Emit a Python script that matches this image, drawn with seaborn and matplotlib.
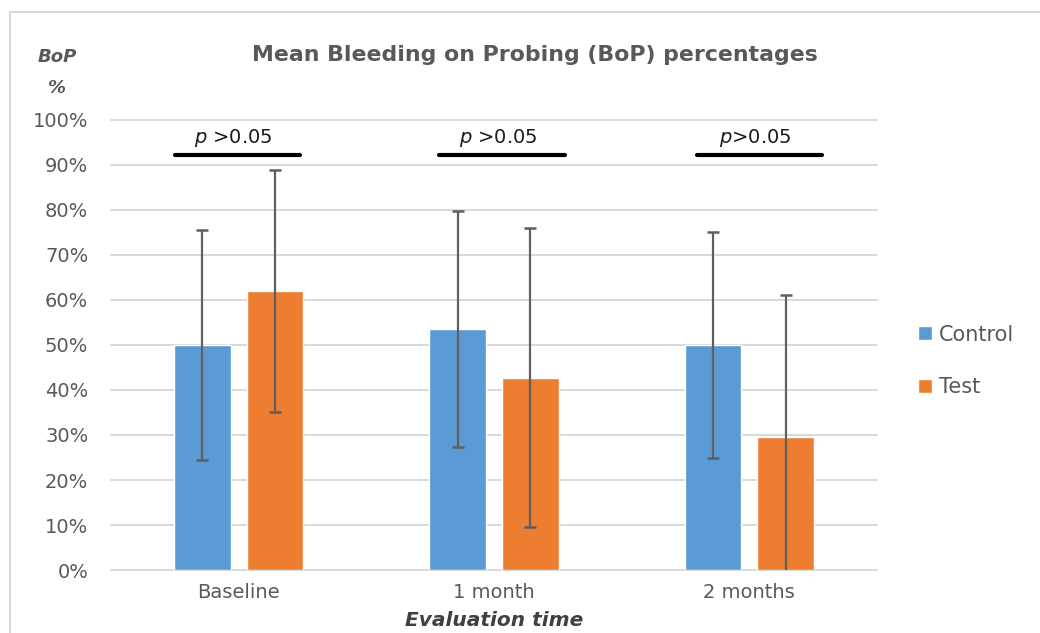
import matplotlib
matplotlib.use("Agg")
import matplotlib.pyplot as plt
from matplotlib.patches import Rectangle
from matplotlib.ticker import PercentFormatter
import seaborn as sns
import pandas as pd

# data (percent)
times = ["Baseline", "1 month", "2 months"]
groups = ["Control", "Test"]
control_mean = [50.0, 53.5, 50.0]
control_sd = [25.5, 26.2, 25.2]
test_mean = [62.0, 42.7, 29.5]
test_sd = [26.8, 33.2, 31.5]
p_labels = ["$p$ >0.05", "$p$ >0.05", "$p$>0.05"]

# p bracket offsets relative to category centre (layout only)
p_offsets = [(-0.25, 0.24), (-0.215, 0.278), (-0.205, 0.285)]

grey = "#595959"
palette = {"Control": "#5B9BD5", "Test": "#ED7D31"}

df = pd.DataFrame({
    "time": times * 2,
    "group": ["Control"] * 3 + ["Test"] * 3,
    "bop": control_mean + test_mean,
    "sd": control_sd + test_sd,
})

sns.set_style("white")
plt.rcParams["font.family"] = ["DejaVu Sans"]

fig = plt.figure(figsize=(10.4, 6.33), dpi=100)
ax = fig.add_axes([0.107, 0.0995, 0.736, 0.711])

sns.barplot(data=df, x="time", y="bop", hue="group", hue_order=groups,
            order=times, palette=palette, width=0.57, gap=0.225,
            errorbar=None, saturation=1, ax=ax, zorder=2)

# error bars (SD) placed on the bars seaborn drew
for i, g in enumerate(groups):
    cont = ax.containers[i]
    sub = df[df.group == g].set_index("time").loc[times]
    xs = [b.get_x() + b.get_width() / 2 for b in cont]
    ax.errorbar(xs, sub["bop"], yerr=sub["sd"], fmt="none", ecolor="#5f5f5f",
                elinewidth=1.6, capsize=4.6, capthick=1.8, zorder=3)

ax.set_ylim(0, 100)
ax.set_xlim(-0.5, 2.5)
ax.set_yticks(range(0, 101, 10))
ax.yaxis.set_major_formatter(PercentFormatter(decimals=0))
ax.grid(axis="y", color="#d9d9d9", linewidth=1.4, zorder=0)
for gl in ax.get_ygridlines():
    gl.set_clip_on(False)
ax.set_axisbelow(True)
sns.despine(ax=ax, left=True, bottom=True, top=True, right=True)
ax.tick_params(axis="both", length=0, labelcolor=grey)
ax.tick_params(axis="y", pad=16.5, labelsize=14)
ax.tick_params(axis="x", pad=9, labelsize=14)
ax.set_xlabel("Evaluation time", fontsize=14.5, fontweight="bold",
              fontstyle="italic", color="#404040", labelpad=7)
ax.set_ylabel("")

# significance brackets
for i, (lab, (a, b)) in enumerate(zip(p_labels, p_offsets)):
    ax.plot([i + a, i + b], [92.2, 92.2], color="black", lw=3,
            solid_capstyle="round", zorder=4, clip_on=False)
    ax.text(i + (a + b) / 2 - 0.015, 96, lab, ha="center", va="center",
            fontsize=14, color="#1a1a1a")

# legend
handles, labels = ax.get_legend_handles_labels()
ax.legend(handles, labels, loc="center left", bbox_to_anchor=(1.03, 0.465),
          frameon=False, fontsize=15, labelcolor=grey, handlelength=0.65,
          handleheight=0.65, handletextpad=0.35, labelspacing=1.55)

fig.text(0.514, 0.913, "Mean Bleeding on Probing (BoP) percentages",
         ha="center", va="center", fontsize=15.8, fontweight="bold", color=grey)
fig.text(0.055, 0.910, "BoP", ha="center", va="center", fontsize=13,
         fontweight="bold", fontstyle="italic", color=grey)
fig.text(0.055, 0.861, "%", ha="center", va="center", fontsize=13,
         fontweight="bold", fontstyle="italic", color=grey)

# chart border like the source frame
fig.patches.append(Rectangle((10 / 1040, -0.05), 1.1, 1 - 12 / 633 + 0.05,
                             transform=fig.transFigure, fill=False,
                             edgecolor="#d9d9d9", linewidth=1.5))

fig.savefig("out.png", dpi=100)
